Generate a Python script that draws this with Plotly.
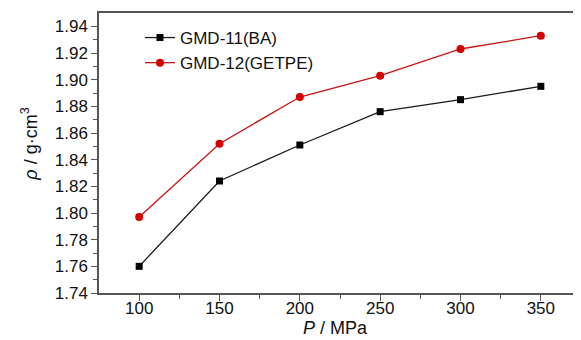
import plotly.graph_objects as go

pressure = [100, 150, 200, 250, 300, 350]
gmd11_ba = [1.760, 1.824, 1.851, 1.876, 1.885, 1.895]
gmd12_getpe = [1.797, 1.852, 1.887, 1.903, 1.923, 1.933]
series_names = ["GMD-11(BA)", "GMD-12(GETPE)"]

FONT = "Liberation Sans, Arial, sans-serif"
AXIS = "#555555"

fig = go.Figure()
fig.add_trace(go.Scatter(
    x=pressure, y=gmd11_ba, name=series_names[0], mode="lines+markers",
    line=dict(color="#1a1a1a", width=1.3),
    marker=dict(symbol="square", size=7, color="#000000"),
))
fig.add_trace(go.Scatter(
    x=pressure, y=gmd12_getpe, name=series_names[1], mode="lines+markers",
    line=dict(color="#c81414", width=1.3),
    marker=dict(symbol="circle", size=8, color="#d40000"),
))

# page body has an 8px default margin, so the figure starts at (8, 8)
fig.update_layout(
    width=573, height=332,
    margin=dict(l=91, r=0, t=5, b=47),
    paper_bgcolor="white", plot_bgcolor="white",
    font=dict(family=FONT, size=17, color="#111111"),
    showlegend=True,
    legend=dict(
        x=0.085, y=0.975, xanchor="left", yanchor="top",
        bgcolor="rgba(0,0,0,0)", font=dict(size=17),
        itemwidth=30, tracegroupgap=0,
    ),
    xaxis=dict(
        range=[75, 375], tickvals=pressure, ticks="outside", ticklen=6,
        tickwidth=1.3, tickcolor=AXIS, ticklabelstandoff=-7,
        minor=dict(tickvals=[125, 175, 225, 275, 325], ticks="outside", ticklen=4, tickcolor=AXIS, tickwidth=1.2),
        showline=True, linecolor=AXIS, linewidth=1.5, mirror=True,
        showgrid=False, zeroline=False,
        tickfont=dict(size=17),
    ),
    yaxis=dict(
        range=[1.74, 1.95], tickvals=[1.74 + 0.02 * i for i in range(11)],
        tickformat=".2f", ticks="outside", ticklen=6,
        tickwidth=1.3, tickcolor=AXIS,
        minor=dict(tickvals=[1.75 + 0.02 * i for i in range(10)], ticks="outside", ticklen=4, tickcolor=AXIS, tickwidth=1.2),
        showline=True, linecolor=AXIS, linewidth=1.5,
        showgrid=False, zeroline=False,
        tickfont=dict(size=17),
    ),
    annotations=[
        dict(text="<i>P</i> / MPa", xref="paper", yref="paper", x=0.49, y=-0.125,
             xanchor="center", yanchor="middle", showarrow=False, font=dict(size=18)),
        dict(text="<i>ρ</i> / g·cm<sup>3</sup>", xref="paper", yref="paper", x=-0.143, y=0.53,
             xanchor="center", yanchor="middle", showarrow=False, textangle=-90, font=dict(size=18)),
    ],
)

fig.write_html("out.html")
